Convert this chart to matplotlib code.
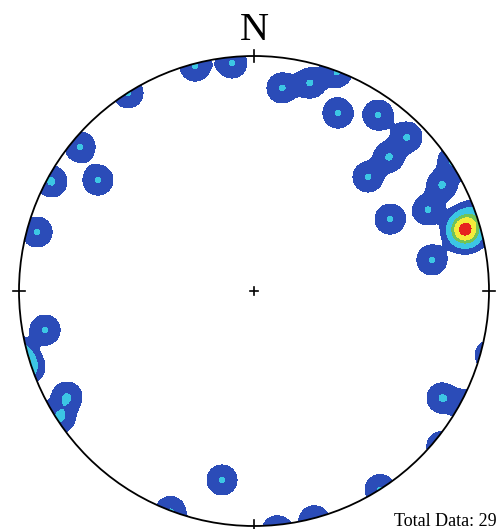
import numpy as np
import matplotlib
matplotlib.use('Agg')
from matplotlib import pyplot as plt
from matplotlib.patches import Circle

# pole positions on the net (unit circle, x = east, y = north)
pole_x = [-0.251, -0.094, 0.119, 0.238, 0.353, 0.357, 0.528, 0.651, 0.574, 0.485,
          0.800, -0.826, 0.740, 0.579, 0.757,
          0.898, 0.898, 0.898, 0.877, 0.919, 0.881, 0.915, 0.936,
          -0.536, -0.740, -0.860, -0.664, -0.923, -0.889, -0.796, -0.136, 0.800]
pole_y = [0.957, 0.970, 0.864, 0.885, 0.932, 0.757, 0.749, 0.655, 0.570, 0.485,
          0.451, -0.540, 0.345, 0.306, 0.132,
          0.260, 0.260, 0.260, 0.243, 0.281, 0.281, 0.238, 0.319,
          0.843, 0.613, 0.464, 0.472, 0.251, -0.166, -0.451, -0.804, -0.455]
total_data = 29

level_values = [0.25, 0.96, 2.4, 3.5, 5.3, 100]
level_colors = ['#2b4cb8', '#3cc6e4', '#72c357', '#f4ec3a', '#e6241f']
sigma = 9 / 235

cx, cy, rad = 254, 291, 235
W, H = 498, 529

px = np.array(pole_x)
py = np.array(pole_y)
# the other end of each axis sits just beyond the opposite side of the primitive
r = np.hypot(px, py)
r_out = np.sqrt(2 - np.minimum(r, 1.0) ** 2)
px = np.concatenate([px, -px / r * r_out])
py = np.concatenate([py, -py / r * r_out])

g = np.linspace(-1.03, 1.03, 520)
gx, gy = np.meshgrid(g, g)
d2 = (gx[..., None] - px) ** 2 + (gy[..., None] - py) ** 2
density = np.exp(-d2 / (2 * sigma ** 2)).sum(axis=-1)

fig = plt.figure(figsize=(W / 100, H / 100), dpi=100)
ax = fig.add_axes([0, 0, 1, 1])
ax.set_xlim(-cx / rad, (W - cx) / rad)
ax.set_ylim(-(H - cy) / rad, cy / rad)
ax.axis('off')

net = Circle((0, 0), 1, transform=ax.transData, facecolor='none')
cs = ax.contourf(gx, gy, density, levels=level_values, colors=level_colors)
cs.set_clip_path(net)

ax.add_patch(Circle((0, 0), 1, facecolor='none', edgecolor='black', lw=1.3))
t = 0.025
for ang in [0, 90, 180, 270]:
    a = np.radians(ang)
    ux, uy = np.cos(a), np.sin(a)
    ax.plot([ux * (1 - t), ux * (1 + t)], [uy * (1 - t), uy * (1 + t)], color='black', lw=1.2)
c = 0.018
ax.plot([-c, c], [0, 0], color='black', lw=1.2)
ax.plot([0, 0], [-c, c], color='black', lw=1.2)

ax.text(0, (cy - 31) / rad, 'N', ha='center', va='center', fontsize=29,
        family='Liberation Serif')
ax.text((497 - cx) / rad, -(526 - cy) / rad, f'Total Data: {total_data}', ha='right',
        va='baseline', fontsize=13, family='Liberation Serif')

fig.savefig('out.png', dpi=100)
